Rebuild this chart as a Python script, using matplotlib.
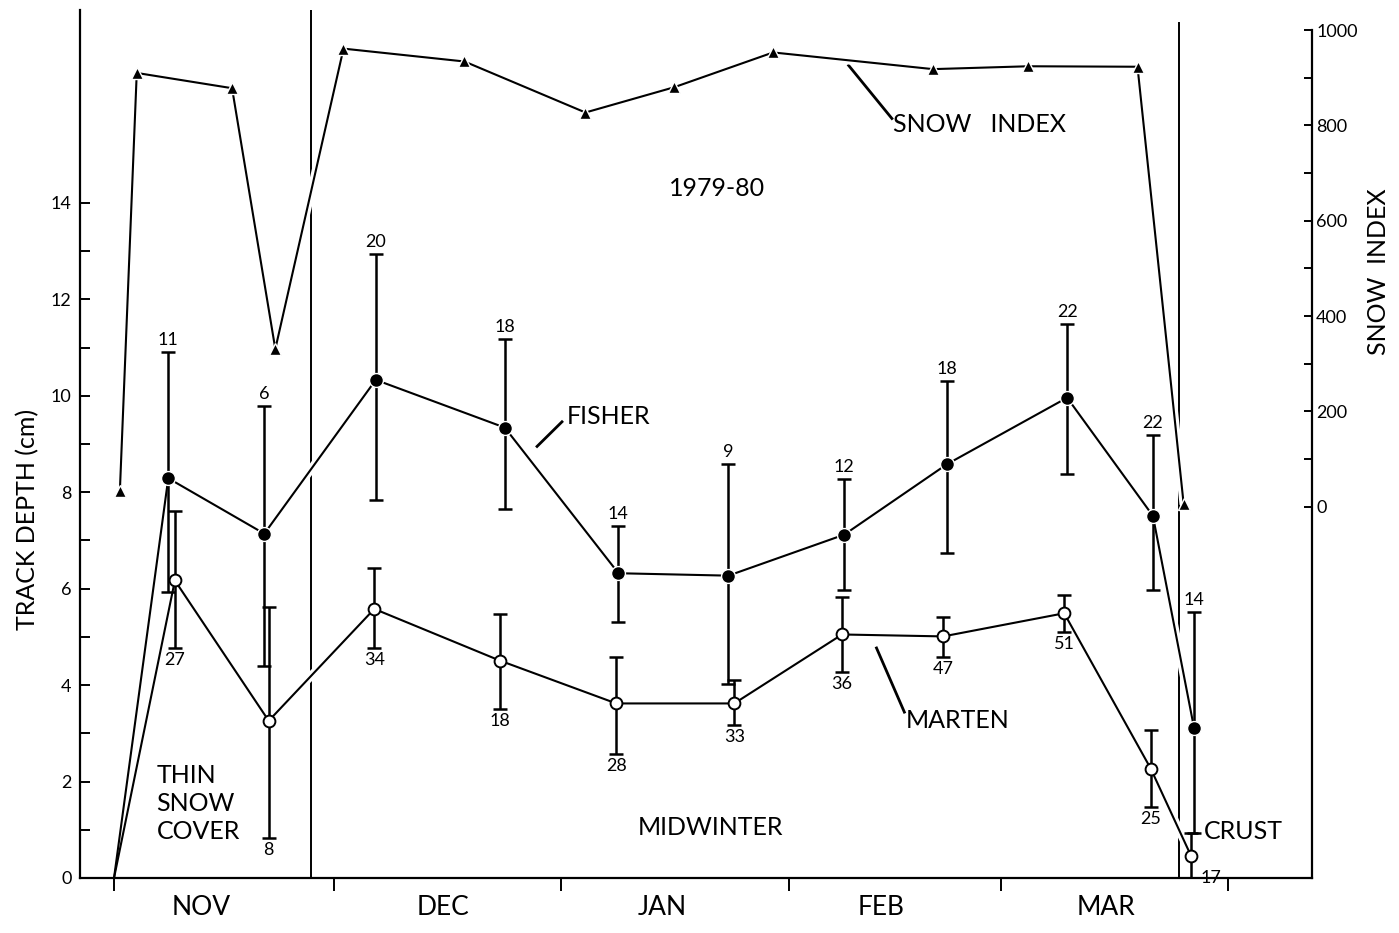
import matplotlib
matplotlib.use('Agg')
import matplotlib.pyplot as plt
import numpy as np

plt.rcParams['font.family'] = ['Lato', 'DejaVu Sans']

# x positions are days since 1 Nov 1979
start_day = 0.0
start_depth = 0.0

fisher_day = [7.4, 20.5, 35.7, 53.3, 68.8, 83.8, 99.6, 113.6, 130.0, 141.7, 147.3]
fisher_depth = [8.29, 7.14, 10.33, 9.34, 6.32, 6.27, 7.12, 8.58, 9.96, 7.51, 3.12]
fisher_lo = [5.94, 4.40, 7.83, 7.66, 5.31, 4.02, 5.98, 6.74, 8.38, 5.98, 0.94]
fisher_hi = [10.91, 9.78, 12.94, 11.17, 7.30, 8.58, 8.27, 10.30, 11.49, 9.18, 5.52]
fisher_n = [11, 6, 20, 18, 14, 9, 12, 18, 22, 22, 14]

marten_day = [8.3, 21.1, 35.5, 52.6, 68.5, 84.6, 99.3, 113.1, 129.6, 141.4, 146.9]
marten_depth = [6.17, 3.26, 5.58, 4.51, 3.62, 3.62, 5.05, 5.01, 5.49, 2.27, 0.46]
marten_lo = [4.76, 0.82, 4.76, 3.51, 2.57, 3.17, 4.27, 4.59, 5.10, 1.47, 0.0]
marten_hi = [7.61, 5.63, 6.43, 5.47, 4.59, 4.10, 5.83, 5.42, 5.87, 3.06, 0.94]
marten_n = [27, 8, 34, 18, 28, 33, 36, 47, 51, 25, 17]

snow_day = [0.8, 3.1, 16.1, 22.0, 31.3, 47.8, 64.3, 76.4, 89.9, 111.7, 124.7, 139.6, 145.9]
snow_index = [34, 910, 878, 331, 961, 934, 827, 880, 953, 918, 924, 923, 5]

month_edges = [0, 30, 61, 92, 121, 152]
month_names = ['NOV', 'DEC', 'JAN', 'FEB', 'MAR']
month_label_pos = [11.9, 44.9, 74.8, 104.6, 135.3]

period_breaks = [26.9, 145.2]

fig = plt.figure(figsize=(13.99, 9.33), dpi=100)
ax = fig.add_axes([80 / 1399, 55 / 933, 1232 / 1399, 868 / 933])
ax2 = ax.twinx()

ax.set_xlim(-4.64, 163.4)
ax.set_ylim(0, 18.0)
ax2.set_ylim(-778.4, 1042)

# period dividers (broken where the curves cross them)
ax.axvline(period_breaks[0], 0, 1, color='black', lw=1.4, zorder=1)
ax.axvline(period_breaks[1], 0, 0.985, color='black', lw=1.4, zorder=1)

fx = [start_day] + fisher_day
fy = [start_depth] + fisher_depth
mx = [start_day] + marten_day
my = [start_depth] + marten_depth

# white gaps under the curves
ax.plot(fx, fy, color='white', lw=6, zorder=1.5, solid_capstyle='butt')
ax.plot(mx, my, color='white', lw=6, zorder=1.5, solid_capstyle='butt')
ax2.plot(snow_day, snow_index, color='white', lw=6, zorder=1.5, solid_capstyle='butt')

# fisher
ax.plot(fx, fy, color='black', lw=1.5, zorder=2)
fd = np.array(fisher_depth)
ax.errorbar(fisher_day, fd, yerr=[fd - np.array(fisher_lo), np.array(fisher_hi) - fd],
            fmt='none', ecolor='black', elinewidth=1.8, capsize=5, capthick=1.8, zorder=3)
ax.plot(fisher_day, fisher_depth, 'o', ms=10, mfc='black', mec='white', mew=1, zorder=4)

# marten
ax.plot(mx, my, color='black', lw=1.5, zorder=2)
md = np.array(marten_depth)
ax.errorbar(marten_day, md, yerr=[md - np.array(marten_lo), np.array(marten_hi) - md],
            fmt='none', ecolor='black', elinewidth=1.8, capsize=5, capthick=1.8, zorder=3)
ax.plot(marten_day, marten_depth, 'o', ms=8.5, mfc='white', mec='black', mew=1.4, zorder=4)

# sample sizes
for d, h, n in zip(fisher_day, fisher_hi, fisher_n):
    ax.annotate(str(n), (d, h), xytext=(0, 4), textcoords='offset pixels',
                ha='center', va='bottom', fontsize=13)
for i, (d, l, n) in enumerate(zip(marten_day, marten_lo, marten_n)):
    if i == len(marten_n) - 1:
        ax.annotate(str(n), (d, l), xytext=(9, 0), textcoords='offset pixels',
                    ha='left', va='center', fontsize=13)
    else:
        ax.annotate(str(n), (d, l), xytext=(0, -4), textcoords='offset pixels',
                    ha='center', va='top', fontsize=13)

# snow index on right axis
ax2.plot(snow_day, snow_index, color='black', lw=1.5, zorder=2)
ax2.plot(snow_day, snow_index, '^', ms=9, mfc='black', mec='white', mew=1, zorder=4)

# text labels and leaders
ax.text(82.3, 14.3, '1979-80', ha='center', va='center', fontsize=18)
ax.text(5.8, 1.54, 'THIN\nSNOW\nCOVER', ha='left', va='center', fontsize=18, linespacing=1.25)
ax.text(81.3, 1.04, 'MIDWINTER', ha='center', va='center', fontsize=18)
ax.text(148.6, 0.96, 'CRUST', ha='left', va='center', fontsize=18)
ax.text(106.3, 15.62, 'SNOW   INDEX', ha='left', va='center', fontsize=18)
ax.plot([100.2, 106.1], [16.85, 15.75], color='black', lw=2)
ax.text(61.8, 9.58, 'FISHER', ha='left', va='center', fontsize=18)
ax.plot([57.7, 61.1], [8.95, 9.46], color='black', lw=2)
ax.text(108.0, 3.26, 'MARTEN', ha='left', va='center', fontsize=18)
ax.plot([104.0, 107.8], [4.77, 3.44], color='black', lw=2)

# axes styling
for s in ['top', 'right']:
    ax.spines[s].set_visible(False)
for s in ['top', 'left', 'bottom']:
    ax2.spines[s].set_visible(False)
ax.spines['left'].set_linewidth(1.6)
ax.spines['bottom'].set_linewidth(1.6)
ax2.spines['right'].set_linewidth(1.6)
ax2.spines['right'].set_bounds(-778.4, 1000)

ax.set_yticks(np.arange(0, 16, 2))
ax.set_yticks(np.arange(1, 14, 2), minor=True)
ax.tick_params(axis='y', which='both', direction='in', length=7, width=1.4,
               labelsize=13, pad=6)

ax.set_xticks(month_edges)
ax.set_xticklabels([])
ax.set_xticks(month_label_pos, minor=True)
ax.set_xticklabels(month_names, minor=True)
ax.tick_params(axis='x', which='major', direction='out', length=9, width=1.4)
ax.tick_params(axis='x', which='minor', length=0, pad=12, labelsize=19)

ax2.set_yticks(np.arange(0, 1001, 200))
ax2.set_yticks(np.arange(100, 1000, 200), minor=True)
ax2.tick_params(axis='y', which='both', direction='in', length=6, width=1.4,
                labelsize=13, pad=3)

fig.text(28 / 1399, 1 - 519 / 933, 'TRACK DEPTH (cm)', rotation=90,
         ha='center', va='center', fontsize=18)
fig.text(1378 / 1399, 1 - 272 / 933, 'SNOW  INDEX', rotation=90,
         ha='center', va='center', fontsize=18)

fig.savefig('out.png', dpi=100)
